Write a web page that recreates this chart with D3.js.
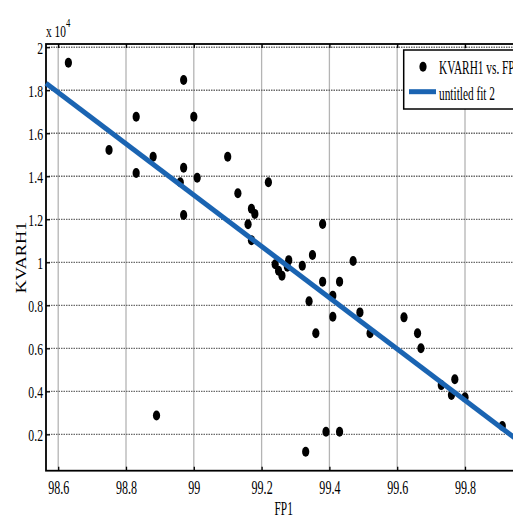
<!DOCTYPE html>
<html>
<head>
<meta charset="utf-8">
<script src="https://cdn.jsdelivr.net/npm/d3@7"></script>
<style>
  body { margin: 0; background: #fff; overflow: hidden; }
  svg text { font-family: "Liberation Serif", "Times New Roman", serif; fill: #000; }
</style>
</head>
<body>
<div id="chart"></div>
<script>
// data (KVARH1 in raw units)
const fp1 = [98.63, 98.75, 98.83, 98.83, 98.88, 98.97, 99.00, 98.97, 98.96, 99.01,
  98.97, 99.10, 99.13, 99.17, 99.18, 99.16, 99.17, 99.22, 98.89, 99.38,
  99.35, 99.28, 99.276, 99.32, 99.47, 99.24, 99.25, 99.26, 99.38, 99.43,
  99.41, 99.34, 99.49, 99.41, 99.36, 99.52, 99.62, 99.66, 99.67, 99.73,
  99.77, 99.76, 99.80, 99.91, 99.39, 99.43, 99.33];
const kvarh1 = [19280, 15220, 16770, 14150, 14910, 18480, 16770, 14400, 13720, 13930,
  12200, 14910, 13210, 12490, 12250, 11770, 11030, 13720, 2880, 11780,
  10340, 10100, 9790, 9840, 10060, 9910, 9610, 9380, 9100, 9100,
  8450, 8190, 7670, 7470, 6700, 6700, 7440, 6700, 6000, 4290,
  4560, 3830, 3720, 2390, 2120, 2120, 1190];

// fitted line ("untitled fit 2") end points
const fitX = [98.564, 100.0];
const fitY = [18326, 1199];

const xTicks = [98.6, 98.8, 99, 99.2, 99.4, 99.6, 99.8];
const xTickLabels = ["98.6", "98.8", "99", "99.2", "99.4", "99.6", "99.8"];
const yTicks = [2000, 4000, 6000, 8000, 10000, 12000, 14000, 16000, 18000, 20000];
const yTickLabels = ["0.2", "0.4", "0.6", "0.8", "1", "1.2", "1.4", "1.6", "1.8", "2"];

const legendLabels = ["KVARH1 vs. FP1", "untitled fit 2"];

const W = 513, H = 519;
const sx = 0.67; // text is squeezed horizontally in the original

const x = d3.scaleLinear().domain([98.564, 100.0]).range([46, 46 + 1.436 * 339]);
const y = d3.scaleLinear().domain([310, 20150]).range([470.7, 44]);

const svg = d3.select("#chart").append("svg")
  .attr("width", W)
  .attr("height", H);

const plotL = x.range()[0], plotR = x.range()[1];
const plotT = y.range()[1], plotB = y.range()[0];

// vertical grid
svg.append("g")
  .selectAll("line")
  .data(xTicks)
  .join("line")
  .attr("x1", d => x(d)).attr("x2", d => x(d))
  .attr("y1", plotT).attr("y2", plotB)
  .attr("stroke", "#b4b4b4")
  .attr("stroke-width", 1.3);

// horizontal grid
svg.append("g")
  .selectAll("line")
  .data(yTicks)
  .join("line")
  .attr("x1", plotL).attr("x2", plotR)
  .attr("y1", d => y(d)).attr("y2", d => y(d))
  .attr("stroke", "#6a6a6a")
  .attr("stroke-width", 1.3)
  .attr("stroke-dasharray", "1.5,1");

// bottom axis
const xAxis = svg.append("g")
  .attr("transform", `translate(0,${plotB})`)
  .call(d3.axisBottom(x).tickValues(xTicks).tickFormat((d, i) => xTickLabels[i]).tickSize(-4))
  .call(g => g.select(".domain").remove());
xAxis.selectAll(".tick line").attr("stroke", "#000").attr("stroke-width", 1.3);
xAxis.selectAll(".tick text")
  .attr("y", 23.5).attr("dy", 0)
  .attr("transform", `scale(${sx},1)`)
  .attr("fill", "#000")
  .style("font-size", "18px");

// top ticks
svg.append("g")
  .attr("transform", `translate(0,${plotT})`)
  .call(d3.axisTop(x).tickValues(xTicks).tickFormat("").tickSize(-4))
  .call(g => g.select(".domain").remove())
  .selectAll(".tick line").attr("stroke", "#000").attr("stroke-width", 1.3);

// left axis
const yAxis = svg.append("g")
  .attr("transform", `translate(${plotL},0)`)
  .call(d3.axisLeft(y).tickValues(yTicks).tickFormat((d, i) => yTickLabels[i]).tickSize(-4))
  .call(g => g.select(".domain").remove());
yAxis.selectAll(".tick line").attr("stroke", "#000").attr("stroke-width", 1.3);
yAxis.selectAll(".tick text")
  .attr("x", -3 / sx)
  .attr("dy", "0.34em")
  .attr("transform", `scale(${sx},1)`)
  .attr("fill", "#000")
  .style("font-size", "17.5px");

// axes box
svg.append("rect")
  .attr("x", plotL).attr("y", plotT)
  .attr("width", plotR - plotL).attr("height", plotB - plotT)
  .attr("fill", "none")
  .attr("stroke", "#000")
  .attr("stroke-width", 1.8);

// exponent
const expo = svg.append("text")
  .attr("transform", `translate(46,37) scale(${sx},1)`)
  .style("font-size", "17px");
expo.append("tspan").text("x 10");
expo.append("tspan").attr("dy", -10).style("font-size", "13px").text("4");

// points
svg.append("g")
  .selectAll("ellipse")
  .data(fp1)
  .join("ellipse")
  .attr("cx", (d, i) => x(d))
  .attr("cy", (d, i) => y(kvarh1[i]))
  .attr("rx", 3.6)
  .attr("ry", 5)
  .attr("fill", "#000");

// fit line
svg.append("path")
  .datum(fitX.map((d, i) => [d, fitY[i]]))
  .attr("fill", "none")
  .attr("stroke", "#1a64b2")
  .attr("stroke-width", 5)
  .attr("d", d3.line().x(d => x(d[0])).y(d => y(d[1])));

// axis labels
svg.append("text")
  .attr("transform", `translate(283.7,515) scale(0.6,1)`)
  .attr("text-anchor", "middle")
  .style("font-size", "19px")
  .text("FP1");

svg.append("text")
  .attr("transform", `translate(26,257.5) rotate(-90) scale(1.18,1)`)
  .attr("text-anchor", "middle")
  .style("font-size", "15.5px")
  .text("KVARH1");

// legend
const legend = svg.append("g");
legend.append("rect")
  .attr("x", 403.7).attr("y", 50)
  .attr("width", 200).attr("height", 59)
  .attr("fill", "#fff")
  .attr("stroke", "#000")
  .attr("stroke-width", 1.5);
legend.append("ellipse")
  .attr("cx", 423).attr("cy", 66.7)
  .attr("rx", 3.6).attr("ry", 5)
  .attr("fill", "#000");
legend.append("line")
  .attr("x1", 409).attr("x2", 436)
  .attr("y1", 91.7).attr("y2", 91.7)
  .attr("stroke", "#1a64b2")
  .attr("stroke-width", 5);
legend.selectAll("text.lab")
  .data(legendLabels)
  .join("text")
  .attr("class", "lab")
  .attr("transform", (d, i) => `translate(439,${i === 0 ? 74 : 100}) scale(0.63,1)`)
  .style("font-size", "18px")
  .text(d => d);
</script>
</body>
</html>
